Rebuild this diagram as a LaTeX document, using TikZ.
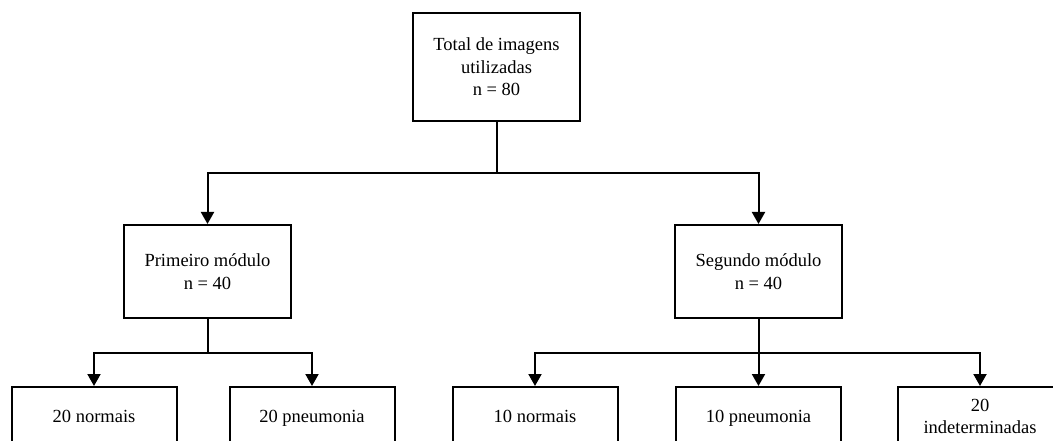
\documentclass[tikz,border=0pt]{standalone}
\usepackage{fontspec}
\setmainfont{Liberation Serif}
\usetikzlibrary{arrows.meta}
\begin{document}
\begin{tikzpicture}[x=1pt,y=-1pt,
  box/.style={draw,line width=2pt,align=center,inner sep=0pt,
    font=\fontsize{18.5}{22.5}\selectfont},
  leaf/.style={box,minimum width=165pt,minimum height=62pt},
  conn/.style={line width=2pt},
  arr/.style={line width=2pt,-{Triangle[width=13pt,length=12pt]}}]
\useasboundingbox (0,0) rectangle (1053,441);
\clip (0,0) rectangle (1053,441);
\fill[white] (0,0) rectangle (1053,441);
\node[box,minimum width=167pt,minimum height=108pt] (top) at (496.5,67)
  {Total de imagens\\utilizadas\\n = 80};
\node[box,minimum width=167pt,minimum height=93pt] (m1) at (207.5,271.5)
  {Primeiro módulo\\n = 40};
\node[box,minimum width=167pt,minimum height=93pt] (m2) at (758.5,271.5)
  {Segundo módulo\\n = 40};
\node[leaf] (b1) at (94,418) {\strut 20 normais};
\node[leaf] (b2) at (312,418) {\strut 20 pneumonia};
\node[leaf] (b3) at (535,418) {\strut 10 normais};
\node[leaf] (b4) at (758.5,418) {\strut 10 pneumonia};
\node[leaf] (b5) at (980,418) {\strut 20\\\strut indeterminadas};
\coordinate (j0) at (496.5,173);
\coordinate (j1) at (207.5,353);
\coordinate (j2) at (758.5,353);
\draw[conn] (top.south) -- (j0);
\draw[arr] (j0) -| (m1.north);
\draw[arr] (j0) -| (m2.north);
\draw[conn] (m1.south) -- (j1);
\draw[arr] (j1) -| (b1.north);
\draw[arr] (j1) -| (b2.north);
\draw[conn] (m2.south) -- (j2);
\draw[arr] (j2) -| (b3.north);
\draw[arr] (j2) -- (b4.north);
\draw[arr] (j2) -| (b5.north);
\end{tikzpicture}
\end{document}
